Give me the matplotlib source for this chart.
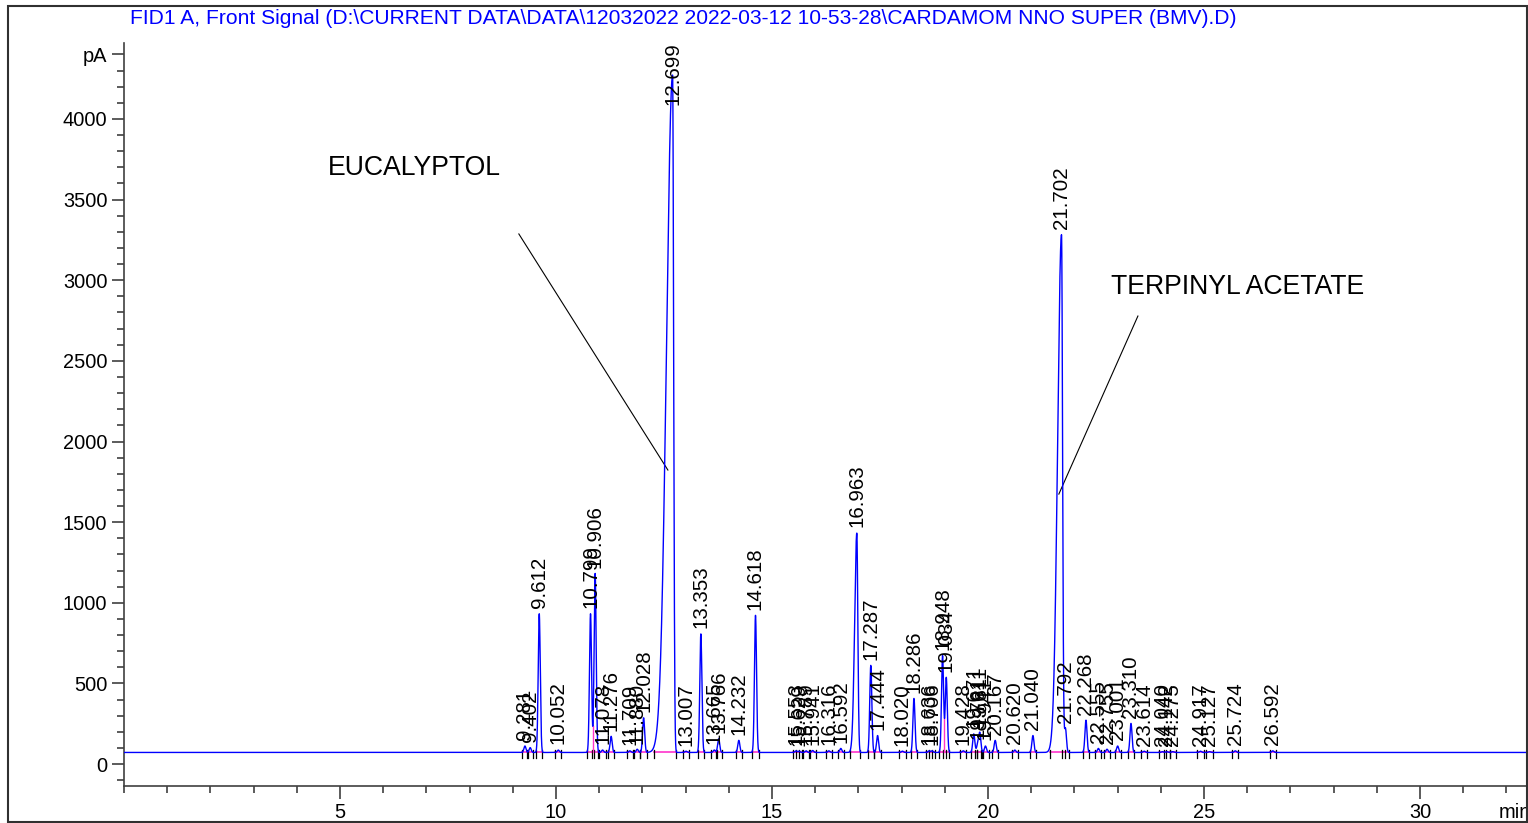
import matplotlib
matplotlib.use('Agg')
import matplotlib.pyplot as plt
import numpy as np
from matplotlib.patches import Rectangle
from matplotlib.ticker import MultipleLocator

plt.rcParams['font.family'] = ['Liberation Sans', 'DejaVu Sans']

TITLE = ('FID1 A, Front Signal (D:\\CURRENT DATA\\DATA\\12032022 '
         '2022-03-12 10-53-28\\CARDAMOM NNO SUPER (BMV).D)')

# peak table: retention time (min), height above baseline (pA)
rt = [9.281, 9.402, 9.612, 10.052, 10.799, 10.906, 11.078, 11.276, 11.709,
      11.880, 12.028, 12.699, 13.007, 13.353, 13.665, 13.766, 14.232, 14.618,
      15.553, 15.629, 15.789, 15.941, 16.316, 16.592, 16.963, 17.287, 17.444,
      18.020, 18.286, 18.636, 18.706, 18.948, 19.034, 19.428, 19.671, 19.761,
      19.811, 19.941, 20.167, 20.620, 21.040, 21.702, 21.792, 22.268, 22.555,
      22.755, 23.001, 23.310, 23.614, 24.040, 24.142, 24.275, 24.917, 25.127,
      25.724, 26.592]
height = [40, 30, 860, 15, 860, 1110, 15, 100, 10,
          20, 215, 4200, 8, 735, 15, 85, 75, 850,
          10, 8, 10, 12, 10, 25, 1360, 540, 105,
          8, 335, 10, 10, 600, 465, 10, 115, 50,
          120, 40, 75, 15, 105, 3210, 150, 200, 25,
          20, 40, 180, 8, 5, 5, 5, 8, 5,
          10, 10]
# fronting (left) width of the overloaded peaks, min
front = {12.699: 0.14, 16.963: 0.05, 21.702: 0.09}
baseline = 72
sigma = 0.024

t = np.linspace(0, 32.5, 30000)
sig = np.full_like(t, baseline, dtype=float)
for r, h in zip(rt, height):
    sl = front.get(r, sigma)
    s = np.where(t < r, sl, sigma)
    sig += h * np.exp(-0.5 * ((t - r) / s) ** 2)

fig = plt.figure(figsize=(15.28, 8.23), dpi=100)
ax = fig.add_axes([124 / 1528, 1 - 786 / 823, 1 - 124 / 1528, (786 - 43) / 823])

# integration baseline + markers
for r in rt:
    sl = front.get(r, sigma)
    a, b = r - 3 * sl, r + 3 * sigma
    ax.plot([a, b], [baseline, baseline], color='#ff33cc', lw=1.2, zorder=1)
    ax.plot([a, a], [baseline + 15, baseline - 35], color='black', lw=0.9)
    ax.plot([b, b], [baseline + 15, baseline - 35], color='black', lw=0.9)
for a, b in [(10.799, 10.906), (18.948, 19.034)]:
    m = (a + b) / 2
    ax.plot([m, m], [baseline, np.interp(m, t, sig)], color='#ff33cc', lw=1)

ax.plot(t, sig, color='#0000ff', lw=1, zorder=3)

for r, h in zip(rt, height):
    y = min(baseline + h + 35, 4085)
    ax.text(r, y, '%.3f' % r, rotation=90, ha='center', va='bottom',
            fontsize=14.8, color='black', zorder=4)

# compound annotations
ax.text(4.72, 3696, 'EUCALYPTOL', fontsize=19.2, va='center')
ax.plot([9.14, 12.59], [3287, 1823], color='black', lw=0.8)
ax.text(22.85, 2958, 'TERPINYL ACETATE', fontsize=19.2, va='center')
ax.plot([23.47, 21.64], [2778, 1674], color='black', lw=0.8)

ax.set_xlim(0, 32.5)
ax.set_ylim(-136, 4471)
ax.spines['top'].set_visible(False)
ax.spines['right'].set_visible(False)
for s in ('left', 'bottom'):
    ax.spines[s].set_color('#404040')
    ax.spines[s].set_linewidth(1.2)

ax.set_xticks([5, 10, 15, 20, 25, 30])
ax.xaxis.set_minor_locator(MultipleLocator(1))
ax.set_yticks([0, 500, 1000, 1500, 2000, 2500, 3000, 3500, 4000, 4400])
ax.set_yticklabels(['0', '500', '1000', '1500', '2000', '2500', '3000',
                    '3500', '4000', 'pA'])
ax.yaxis.set_minor_locator(MultipleLocator(100))
ax.tick_params(which='major', length=9, width=1.2, color='#404040',
               labelsize=14.4, pad=3)
ax.tick_params(which='minor', length=5, width=1.2, color='#404040')
ax.text(32.2, -0.035, 'min', transform=ax.get_xaxis_transform(),
        ha='center', va='center', fontsize=14.4)

fig.text(130 / 1528, 1 - 19 / 823, TITLE, color='#0000ff', fontsize=15.1,
         ha='left', va='center')
fig.patches.append(Rectangle((8 / 1528, 1 / 823), 1 - 9 / 1528, 1 - 7 / 823,
                             transform=fig.transFigure, fill=False,
                             edgecolor='#303030', lw=1.5))

fig.savefig('out.png', dpi=100)
